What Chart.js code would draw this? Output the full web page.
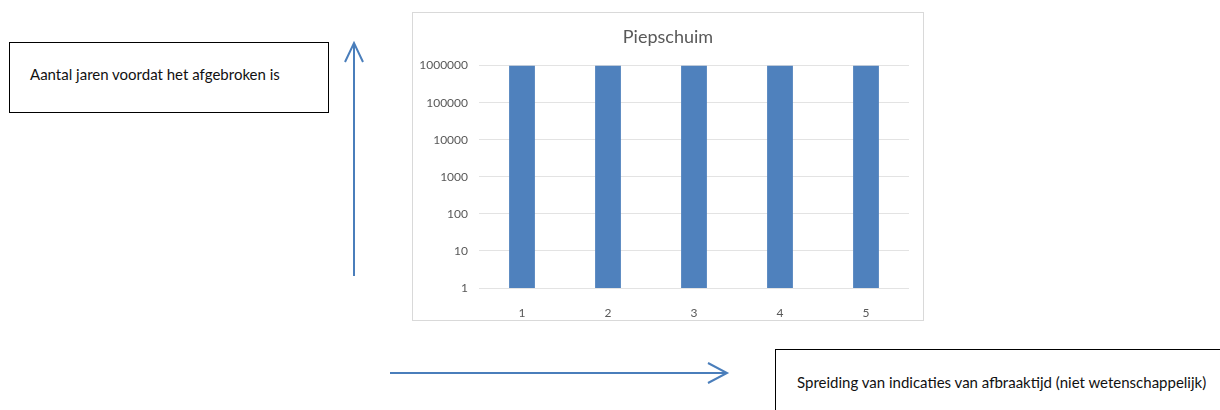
<!DOCTYPE html>
<html>
<head>
<meta charset="utf-8">
<script src="https://cdn.jsdelivr.net/npm/chart.js@4/dist/chart.umd.min.js"></script>
<style>
    body { margin: 0; width: 1220px; height: 410px; background: #fff; position: relative; overflow: hidden; font-family: Lato, "Open Sans", sans-serif; }
    .box { position: absolute; border: 1px solid #000; background: #fff; color: #111; font-size: 15px; box-sizing: border-box; }
    #box-left { left: 9px; top: 42px; width: 320px; height: 71px; }
    #box-left span { position: absolute; left: 20px; top: 22px; }
    #box-right { left: 775px; top: 349px; width: 460px; height: 80px; }
    #box-right span { position: absolute; left: 21px; top: 23px; white-space: nowrap; }
    #chart-frame { position: absolute; left: 412px; top: 12px; width: 512px; height: 309px; border: 1px solid #d9d9d9; box-sizing: border-box; }
    #chart-wrap { position: absolute; left: 0; top: 0; width: 510px; height: 307px; }
    svg { position: absolute; left: 0; top: 0; }
</style>
</head>
<body>
<div class="box" id="box-left"><span>Aantal jaren voordat het afgebroken is</span></div>
<div class="box" id="box-right"><span>Spreiding van indicaties van afbraaktijd (niet wetenschappelijk)</span></div>

<svg width="1220" height="410">
    <g stroke="#4a7ebb" stroke-width="2" fill="none">
        <!-- vertical arrow -->
        <line x1="354" y1="276" x2="354" y2="43"/>
        <polyline points="345,62 354,43 363,62"/>
        <!-- horizontal arrow -->
        <line x1="390" y1="373" x2="727" y2="373"/>
        <polyline points="708,363 727,373 708,383"/>
    </g>
</svg>

<div id="chart-frame">
    <div id="chart-wrap"><canvas id="chart"></canvas></div>
</div>

<script>
// chart data
const categories = ['1', '2', '3', '4', '5'];
const jaren = [1000000, 1000000, 1000000, 1000000, 1000000];
const yTicks = [1, 10, 100, 1000, 10000, 100000, 1000000];

const textColor = '#595959';
const gridColor = '#e3e3e3';

const ctx = document.getElementById('chart').getContext('2d');
new Chart(ctx, {
    type: 'bar',
    data: {
        labels: categories,
        datasets: [{
            label: 'Piepschuim',
            data: jaren,
            backgroundColor: '#4f81bd',
            borderWidth: 0,
            categoryPercentage: 1,
            barPercentage: 0.3
        }]
    },
    options: {
        responsive: true,
        maintainAspectRatio: false,
        animation: false,
        layout: { padding: 0 },
        plugins: {
            legend: { display: false },
            tooltip: { enabled: false },
            title: {
                display: true,
                text: 'Piepschuim',
                color: textColor,
                font: { family: 'Lato', size: 18, weight: 'normal' },
                padding: { top: 13, bottom: 18 }
            }
        },
        scales: {
            x: {
                grid: { display: false },
                border: { display: false },
                ticks: {
                    color: textColor,
                    font: { family: 'Lato', size: 12 },
                    padding: 10
                },
                afterFit: function(scale) { scale.height = 32; }
            },
            y: {
                type: 'logarithmic',
                min: 1,
                max: 1000000,
                grid: { color: gridColor, lineWidth: 1, drawTicks: false },
                border: { display: false },
                afterBuildTicks: function(scale) {
                    scale.ticks = yTicks.map(v => ({ value: v }));
                },
                ticks: {
                    color: textColor,
                    font: { family: 'Lato', size: 12 },
                    padding: 11,
                    callback: function(value) { return String(value); }
                },
                afterFit: function(scale) { scale.width = 66; }
            },
            // empty right-hand axis, only reserves the margin right of the plot
            yRight: {
                position: 'right',
                grid: { display: false },
                border: { display: false },
                ticks: { display: false },
                afterFit: function(scale) { scale.width = 14; }
            }
        }
    }
});
</script>
</body>
</html>
